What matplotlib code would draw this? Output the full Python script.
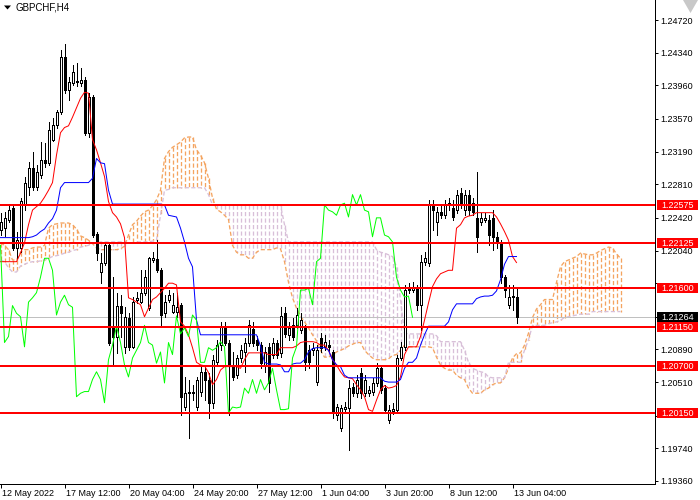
import numpy as np
import matplotlib
matplotlib.use('Agg')
import matplotlib.pyplot as plt
from matplotlib.patches import Rectangle, Polygon

plt.rcParams['font.family'] = ['Liberation Sans', 'DejaVu Sans']

##### Chart data (GBPCHF, H4) #####
symbol = 'GBPCHF,H4'

opens = [1.2228, 1.2230, 1.2240, 1.2254, 1.2207, 1.2207, 1.2257, 1.2278, 1.2300, 1.2278,
         1.2292, 1.2309, 1.2306, 1.2333, 1.2350, 1.2365, 1.2429, 1.2391, 1.2399, 1.2401,
         1.2399, 1.2402, 1.2341, 1.2383, 1.2223, 1.2179, 1.2190, 1.2210, 1.2114, 1.2104,
         1.2140, 1.2092, 1.2126, 1.2092, 1.2147, 1.2144, 1.2155, 1.2137, 1.2193, 1.2194,
         1.2181, 1.2131, 1.2147, 1.2133, 1.2133, 1.2141, 1.2022, 1.2038, 1.2038, 1.2022,
         1.2040, 1.2063, 1.2054, 1.2027, 1.2074, 1.2094, 1.2116, 1.2097, 1.2071, 1.2059,
         1.2079, 1.2086, 1.2097, 1.2113, 1.2100, 1.2094, 1.2071, 1.2092, 1.2083, 1.2097,
         1.2085, 1.2131, 1.2106, 1.2117, 1.2117, 1.2112, 1.2114, 1.2088, 1.2088, 1.2051,
         1.2102, 1.2092, 1.2094, 1.2086, 1.2013, 1.1998, 1.2020, 1.2021, 1.2045, 1.2038,
         1.2062, 1.2038, 1.2038, 1.2040, 1.2050, 1.2067, 1.2044, 1.2007, 1.2017, 1.2019,
         1.2079, 1.2092, 1.2160, 1.2158, 1.2160, 1.2141, 1.2191, 1.2190, 1.2257, 1.2237,
         1.2249, 1.2245, 1.2257, 1.2254, 1.2251, 1.2271, 1.2251, 1.2269, 1.2259, 1.2242,
         1.2237, 1.2240, 1.2240, 1.2242, 1.2220, 1.2214, 1.2173, 1.2141, 1.2150, 1.2150]

highs = [1.2248, 1.2249, 1.2256, 1.2256, 1.2226, 1.2265, 1.2290, 1.2307, 1.2319, 1.2303,
         1.2330, 1.2329, 1.2354, 1.2358, 1.2367, 1.2437, 1.2444, 1.2406, 1.2420, 1.2422,
         1.2416, 1.2406, 1.2387, 1.2385, 1.2226, 1.2201, 1.2214, 1.2213, 1.2173, 1.2155,
         1.2152, 1.2138, 1.2131, 1.2150, 1.2156, 1.2181, 1.2181, 1.2197, 1.2202, 1.2216,
         1.2184, 1.2152, 1.2158, 1.2155, 1.2155, 1.2143, 1.2057, 1.2054, 1.2048, 1.2057,
         1.2071, 1.2069, 1.2062, 1.2083, 1.2100, 1.2121, 1.2121, 1.2100, 1.2086, 1.2083,
         1.2094, 1.2102, 1.2123, 1.2121, 1.2105, 1.2098, 1.2092, 1.2097, 1.2102, 1.2100,
         1.2138, 1.2138, 1.2121, 1.2126, 1.2137, 1.2131, 1.2117, 1.2094, 1.2097, 1.2094,
         1.2108, 1.2106, 1.2100, 1.2088, 1.2026, 1.2024, 1.2028, 1.2054, 1.2050, 1.2059,
         1.2067, 1.2059, 1.2047, 1.2056, 1.2073, 1.2071, 1.2048, 1.2024, 1.2027, 1.2083,
         1.2098, 1.2164, 1.2166, 1.2167, 1.2164, 1.2199, 1.2202, 1.2263, 1.2263, 1.2255,
         1.2257, 1.2263, 1.2265, 1.2263, 1.2274, 1.2277, 1.2274, 1.2274, 1.2265, 1.2295,
         1.2248, 1.2248, 1.2245, 1.2251, 1.2226, 1.2216, 1.2176, 1.2164, 1.2164, 1.2162]

lows = [1.2222, 1.2221, 1.2237, 1.2205, 1.2195, 1.2202, 1.2251, 1.2269, 1.2274, 1.2274,
        1.2288, 1.2301, 1.2303, 1.2331, 1.2347, 1.2363, 1.2387, 1.2379, 1.2397, 1.2395,
        1.2395, 1.2338, 1.2336, 1.2220, 1.2193, 1.2166, 1.2187, 1.2094, 1.2071, 1.2085,
        1.2104, 1.2085, 1.2088, 1.2091, 1.2143, 1.2143, 1.2152, 1.2135, 1.2191, 1.2179,
        1.2115, 1.2127, 1.2144, 1.2131, 1.2127, 1.2013, 1.2019, 1.1986, 1.2030, 1.2019,
        1.2035, 1.2030, 1.2009, 1.2021, 1.2070, 1.2088, 1.2094, 1.2013, 1.2054, 1.2056,
        1.2074, 1.2063, 1.2093, 1.2093, 1.2088, 1.2067, 1.2063, 1.2040, 1.2079, 1.2079,
        1.2080, 1.2104, 1.2100, 1.2100, 1.2114, 1.2108, 1.2065, 1.2067, 1.2083, 1.2048,
        1.2086, 1.2088, 1.2086, 1.2009, 1.2007, 1.1994, 1.2016, 1.1972, 1.2035, 1.2034,
        1.2033, 1.2035, 1.2035, 1.2036, 1.2047, 1.2038, 1.2015, 1.2003, 1.2014, 1.2016,
        1.2077, 1.2088, 1.2155, 1.2156, 1.2135, 1.2112, 1.2187, 1.2186, 1.2228, 1.2222,
        1.2242, 1.2242, 1.2251, 1.2240, 1.2248, 1.2254, 1.2245, 1.2245, 1.2245, 1.2202,
        1.2234, 1.2237, 1.2210, 1.2205, 1.2207, 1.2166, 1.2150, 1.2137, 1.2135, 1.2120]

closes = [1.2237, 1.2242, 1.2251, 1.2207, 1.2216, 1.2261, 1.2283, 1.2300, 1.2278, 1.2295,
          1.2309, 1.2306, 1.2344, 1.2350, 1.2365, 1.2429, 1.2391, 1.2400, 1.2412, 1.2400,
          1.2402, 1.2341, 1.2383, 1.2222, 1.2201, 1.2190, 1.2210, 1.2097, 1.2104, 1.2140,
          1.2131, 1.2127, 1.2092, 1.2144, 1.2149, 1.2155, 1.2173, 1.2195, 1.2195, 1.2181,
          1.2129, 1.2144, 1.2152, 1.2141, 1.2138, 1.2034, 1.2038, 1.2040, 1.2040, 1.2054,
          1.2063, 1.2054, 1.2027, 1.2077, 1.2094, 1.2116, 1.2097, 1.2071, 1.2057, 1.2079,
          1.2088, 1.2097, 1.2117, 1.2097, 1.2094, 1.2073, 1.2086, 1.2050, 1.2097, 1.2083,
          1.2128, 1.2107, 1.2114, 1.2104, 1.2129, 1.2123, 1.2074, 1.2074, 1.2091, 1.2088,
          1.2091, 1.2098, 1.2092, 1.2015, 1.2022, 1.2021, 1.2022, 1.2044, 1.2038, 1.2054,
          1.2038, 1.2054, 1.2042, 1.2050, 1.2067, 1.2042, 1.2019, 1.2019, 1.2020, 1.2079,
          1.2092, 1.2158, 1.2158, 1.2160, 1.2141, 1.2191, 1.2195, 1.2257, 1.2251, 1.2249,
          1.2245, 1.2257, 1.2259, 1.2243, 1.2269, 1.2257, 1.2269, 1.2251, 1.2249, 1.2220,
          1.2242, 1.2242, 1.2222, 1.2220, 1.2214, 1.2173, 1.2158, 1.2150, 1.2151, 1.21264]

# Ichimoku lines
tenkan = [1.2191, 1.2191, 1.2191, 1.2191, 1.2191, 1.2201, 1.2213, 1.2234, 1.2251, 1.2255,
          1.2259, 1.2266, 1.2274, 1.2283, 1.2315, 1.2341, 1.2347, 1.2349, 1.2359, 1.2370,
          1.2381, 1.2388, 1.2387, 1.2333, 1.2321, 1.2306, 1.2290, 1.2261, 1.2248, 1.2243,
          1.2235, 1.2219, 1.2149, 1.2147, 1.2144, 1.2141, 1.2127, 1.2137, 1.2147, 1.2150,
          1.2155, 1.2160, 1.2166, 1.2166, 1.2164, 1.2121, 1.2116, 1.2106, 1.2091, 1.2074,
          1.2071, 1.2070, 1.2062, 1.2048, 1.2054, 1.2065, 1.2069, 1.2069, 1.2069, 1.2069,
          1.2067, 1.2077, 1.2085, 1.2085, 1.2085, 1.2085, 1.2085, 1.2083, 1.2083, 1.2083,
          1.2091, 1.2091, 1.2091, 1.2091, 1.2093, 1.2097, 1.2098, 1.2098, 1.2098, 1.2097,
          1.2094, 1.2094, 1.2088, 1.2077, 1.2071, 1.2063, 1.2057, 1.2056, 1.2055, 1.2048,
          1.2042, 1.2034, 1.2019, 1.2017, 1.2030, 1.2042, 1.2047, 1.2044, 1.2045, 1.2047,
          1.2057, 1.2083, 1.2092, 1.2092, 1.2092, 1.2104, 1.2123, 1.2143, 1.2162, 1.2171,
          1.2177, 1.2179, 1.2181, 1.2181, 1.2230, 1.2234, 1.2242, 1.2244, 1.2245, 1.2248,
          1.2248, 1.2248, 1.2248, 1.2248, 1.2243, 1.2235, 1.2226, 1.2216, 1.2197, 1.2190]

kijun = [1.2219, 1.2219, 1.2219, 1.2219, 1.2219, 1.2219, 1.2219, 1.2219, 1.2220, 1.2222,
         1.2226, 1.2229, 1.2236, 1.2241, 1.2251, 1.2277, 1.2283, 1.2283, 1.2283, 1.2283,
         1.2283, 1.2283, 1.2283, 1.2288, 1.2311, 1.2306, 1.2305, 1.2274, 1.2258, 1.2258,
         1.2258, 1.2258, 1.2258, 1.2258, 1.2258, 1.2258, 1.2258, 1.2258, 1.2258, 1.2258,
         1.2258, 1.2257, 1.2245, 1.2244, 1.2243, 1.2230, 1.2214, 1.2195, 1.2185, 1.2123,
         1.2106, 1.2106, 1.2106, 1.2106, 1.2106, 1.2106, 1.2106, 1.2106, 1.2106, 1.2106,
         1.2106, 1.2106, 1.2106, 1.2106, 1.2106, 1.2093, 1.2074, 1.2072, 1.2072, 1.2072,
         1.2071, 1.2063, 1.2063, 1.2072, 1.2073, 1.2073, 1.2077, 1.2086, 1.2090, 1.2091,
         1.2091, 1.2091, 1.2088, 1.2077, 1.2071, 1.2069, 1.2059, 1.2056, 1.2056, 1.2056,
         1.2056, 1.2056, 1.2056, 1.2056, 1.2056, 1.2056, 1.2052, 1.2051, 1.2051, 1.2051,
         1.2054, 1.2067, 1.2074, 1.2074, 1.2079, 1.2094, 1.2106, 1.2116, 1.2116, 1.2116,
         1.2116, 1.2116, 1.2121, 1.2135, 1.2142, 1.2142, 1.2142, 1.2142, 1.2142, 1.2148,
         1.2150, 1.2151, 1.2151, 1.2152, 1.2157, 1.2170, 1.2188, 1.2197, 1.2197, 1.2197]

# Senkou spans, already displaced 26 bars ahead (156 bars)
span_a = [1.2213, 1.2210, 1.2205, 1.2193, 1.2193, 1.2202, 1.2205, 1.2205, 1.2207, 1.2208,
          1.2208, 1.2210, 1.2230, 1.2234, 1.2235, 1.2236, 1.2236, 1.2236, 1.2234, 1.2229,
          1.2221, 1.2219, 1.2216, 1.2212, 1.2207, 1.2205, 1.2205, 1.2205, 1.2205, 1.2205,
          1.2206, 1.2209, 1.2222, 1.2234, 1.2238, 1.2244, 1.2249, 1.2251, 1.2256, 1.2263,
          1.2274, 1.2311, 1.2319, 1.2324, 1.2327, 1.2330, 1.2335, 1.2336, 1.2336, 1.2321,
          1.2315, 1.2306, 1.2288, 1.2265, 1.2252, 1.2249, 1.2245, 1.2240, 1.2210, 1.2202,
          1.2199, 1.2199, 1.2195, 1.2195, 1.2202, 1.2205, 1.2205, 1.2205, 1.2205, 1.2207,
          1.2206, 1.2191, 1.2167, 1.2149, 1.2137, 1.2128, 1.2121, 1.2114, 1.2106, 1.2099,
          1.2088, 1.2080, 1.2080, 1.2083, 1.2086, 1.2088, 1.2090, 1.2093, 1.2095, 1.2097,
          1.2097, 1.2088, 1.2083, 1.2079, 1.2077, 1.2077, 1.2077, 1.2078, 1.2082, 1.2083,
          1.2088, 1.2094, 1.2092, 1.2092, 1.2092, 1.2092, 1.2092, 1.2092, 1.2091, 1.2080,
          1.2071, 1.2067, 1.2065, 1.2065, 1.2059, 1.2056, 1.2054, 1.2044, 1.2038, 1.2038,
          1.2038, 1.2042, 1.2044, 1.2048, 1.2050, 1.2050, 1.2056, 1.2067, 1.2079, 1.2084,
          1.2085, 1.2094, 1.2108, 1.2126, 1.2136, 1.2141, 1.2147, 1.2147, 1.2147, 1.2167,
          1.2185, 1.2191, 1.2193, 1.2195, 1.2197, 1.2201, 1.2200, 1.2199, 1.2199, 1.2201,
          1.2204, 1.2206, 1.2208, 1.2207, 1.2200, 1.2195]

span_b = [1.2193, 1.2191, 1.2184, 1.2179, 1.2179, 1.2186, 1.2188, 1.2190, 1.2191, 1.2191,
          1.2192, 1.2193, 1.2195, 1.2197, 1.2198, 1.2199, 1.2201, 1.2202, 1.2204, 1.2205,
          1.2208, 1.2209, 1.2210, 1.2212, 1.2213, 1.2214, 1.2214, 1.2214, 1.2214, 1.2214,
          1.2214, 1.2214, 1.2213, 1.2213, 1.2214, 1.2214, 1.2214, 1.2214, 1.2215, 1.2216,
          1.2245, 1.2274, 1.2275, 1.2277, 1.2277, 1.2277, 1.2277, 1.2277, 1.2277, 1.2277,
          1.2277, 1.2277, 1.2269, 1.2257, 1.2257, 1.2257, 1.2257, 1.2257, 1.2257, 1.2257,
          1.2257, 1.2257, 1.2257, 1.2257, 1.2257, 1.2257, 1.2257, 1.2257, 1.2257, 1.2257,
          1.2257, 1.2234, 1.2214, 1.2214, 1.2214, 1.2214, 1.2214, 1.2214, 1.2214, 1.2214,
          1.2214, 1.2214, 1.2214, 1.2214, 1.2214, 1.2214, 1.2214, 1.2214, 1.2214, 1.2214,
          1.2214, 1.2214, 1.2214, 1.2214, 1.2205, 1.2202, 1.2201, 1.2199, 1.2197, 1.2185,
          1.2147, 1.2108, 1.2107, 1.2107, 1.2107, 1.2107, 1.2107, 1.2107, 1.2107, 1.2105,
          1.2098, 1.2098, 1.2098, 1.2098, 1.2098, 1.2098, 1.2088, 1.2074, 1.2067, 1.2065,
          1.2063, 1.2062, 1.2057, 1.2056, 1.2056, 1.2056, 1.2056, 1.2074, 1.2074, 1.2074,
          1.2074, 1.2088, 1.2100, 1.2117, 1.2117, 1.2117, 1.2117, 1.2119, 1.2120, 1.2121,
          1.2123, 1.2126, 1.2127, 1.2128, 1.2129, 1.2130, 1.2130, 1.2130, 1.2133, 1.2133,
          1.2133, 1.2133, 1.2133, 1.2133, 1.2133, 1.2133]

chikou_shift = 26
bid = 1.21264
levels = [1.22575, 1.22125, 1.21600, 1.21150, 1.20700, 1.20150]
price_ticks = [1.24720, 1.24340, 1.23960, 1.23570, 1.23190, 1.22810, 1.22420, 1.22040,
               1.21660, 1.21270, 1.20890, 1.20510, 1.20120, 1.19740, 1.19360]
date_bars = [0, 16, 32, 48, 64, 80, 96, 112, 128]
date_labels = ['12 May 2022', '17 May 12:00', '20 May 04:00', '24 May 20:00',
               '27 May 12:00', '1 Jun 04:00', '3 Jun 20:00', '8 Jun 12:00', '13 Jun 04:00']

##### Layout #####
W, H = 700, 500
plot_w, plot_h = 655, 484
px = 0.72                      # one pixel in points at 100 dpi
ymin, ymax = 1.19325, 1.24953
ppx = (ymax - ymin) / plot_h   # price per pixel
fs = 6.5

fig = plt.figure(figsize=(7, 5), dpi=100)
fig.patch.set_facecolor('white')
ax = fig.add_axes([0, (H - plot_h) / H, plot_w / W, plot_h / H])
ax.set_xlim(-0.125, 163.625)
ax.set_ylim(ymin, ymax)

##### Kumo cloud #####
sandy, thistle = '#f4a460', '#d8bfd8'
hatch_lw = 1.3 * px
dash = (3.2, 1.8)    # in units of line width
for i, (sa, sb) in enumerate(zip(span_a, span_b)):
    col = sandy if sa >= sb else thistle
    ax.plot([i, i], [max(sa, sb), min(sa, sb)], color=col, lw=hatch_lw, dashes=dash,
            dash_capstyle='butt', zorder=1)
ax.plot(range(len(span_a)), span_a, color=sandy, lw=hatch_lw, dashes=dash, zorder=1)
ax.plot(range(len(span_b)), span_b, color=thistle, lw=hatch_lw, dashes=dash, zorder=1)

# bid line
ax.axhline(bid, color='#c0c0c0', lw=px, zorder=2)

##### Candles #####
o = np.array(opens)
h = np.array(highs)
l = np.array(lows)
c = np.array(closes)
xb = np.arange(len(o))
up = c >= o
ax.vlines(xb, l, h, color='black', lw=px, antialiased=False, zorder=3)
ax.bar(xb[up], (c - o)[up], bottom=o[up], width=0.5, color='white',
       edgecolor='black', linewidth=px, antialiased=False, zorder=4)
ax.bar(xb[~up], (o - c)[~up], bottom=c[~up], width=0.5, color='black',
       edgecolor='black', linewidth=px, antialiased=False, zorder=4)

##### Ichimoku lines #####
ax.plot(xb, tenkan, color='#ff0000', lw=px, zorder=5)
ax.plot(xb, kijun, color='#0000ff', lw=px, zorder=5)
ax.plot(xb[:-chikou_shift], c[chikou_shift:], color='#00ff00', lw=px, zorder=5)

# support / resistance levels
for lev in levels:
    ax.axhline(lev, color='#ff0000', lw=2 * px, zorder=6)

##### Axes styling #####
for s in ['left', 'top']:
    ax.spines[s].set_visible(False)
for s in ['right', 'bottom']:
    ax.spines[s].set_linewidth(px)
ax.yaxis.tick_right()
# labels that sit under the price boxes are left blank
covered = [1.21660, 1.21270, 1.20120]
ax.set_yticks(price_ticks, ['' if p in covered else '%.5f' % p for p in price_ticks])
ax.tick_params(axis='y', length=3 * px, width=px, pad=2.5 * px, labelsize=fs, direction='out')
ax.set_xticks(date_bars, [''] * len(date_bars))
ax.tick_params(axis='x', length=4 * px, width=px, direction='out')
for xb_, lbl in zip(date_bars, date_labels):
    ax.text(xb_ + 0.3, -10 / plot_h, lbl, transform=ax.get_xaxis_transform(),
            ha='left', va='center', fontsize=fs, clip_on=False)


def price_box(p, text, fc):
    tr = ax.get_yaxis_transform()
    ax.add_patch(Rectangle((1 + 2 / plot_w, p - 5 * ppx), 41 / plot_w, 10 * ppx,
                           transform=tr, facecolor=fc, edgecolor='none',
                           clip_on=False, zorder=10))
    ax.text(1 + 22.5 / plot_w, p - 0.5 * ppx, text, transform=tr, ha='center', va='center',
            color='white', fontsize=fs, zorder=11, clip_on=False)


for lev in levels:
    price_box(lev, '%.5f' % lev, '#ff0000')
price_box(bid, '%.5f' % bid, 'black')

##### Title and corner marks #####
fig.text(15 / W, 1 - 8 / H, symbol, fontsize=7, ha='left', va='center')
fig.add_artist(Polygon([[4 / W, 1 - 5.5 / H], [11 / W, 1 - 5.5 / H], [7.5 / W, 1 - 9.5 / H]],
                       closed=True, transform=fig.transFigure, facecolor='black',
                       edgecolor='none'))
fig.add_artist(Polygon([[683 / W, 1 - 0 / H], [698 / W, 1 - 0 / H], [690.5 / W, 1 - 13 / H]],
                       closed=True, transform=fig.transFigure, facecolor='#c8c8c8',
                       edgecolor='none'))

fig.savefig('out.png', dpi=100)
